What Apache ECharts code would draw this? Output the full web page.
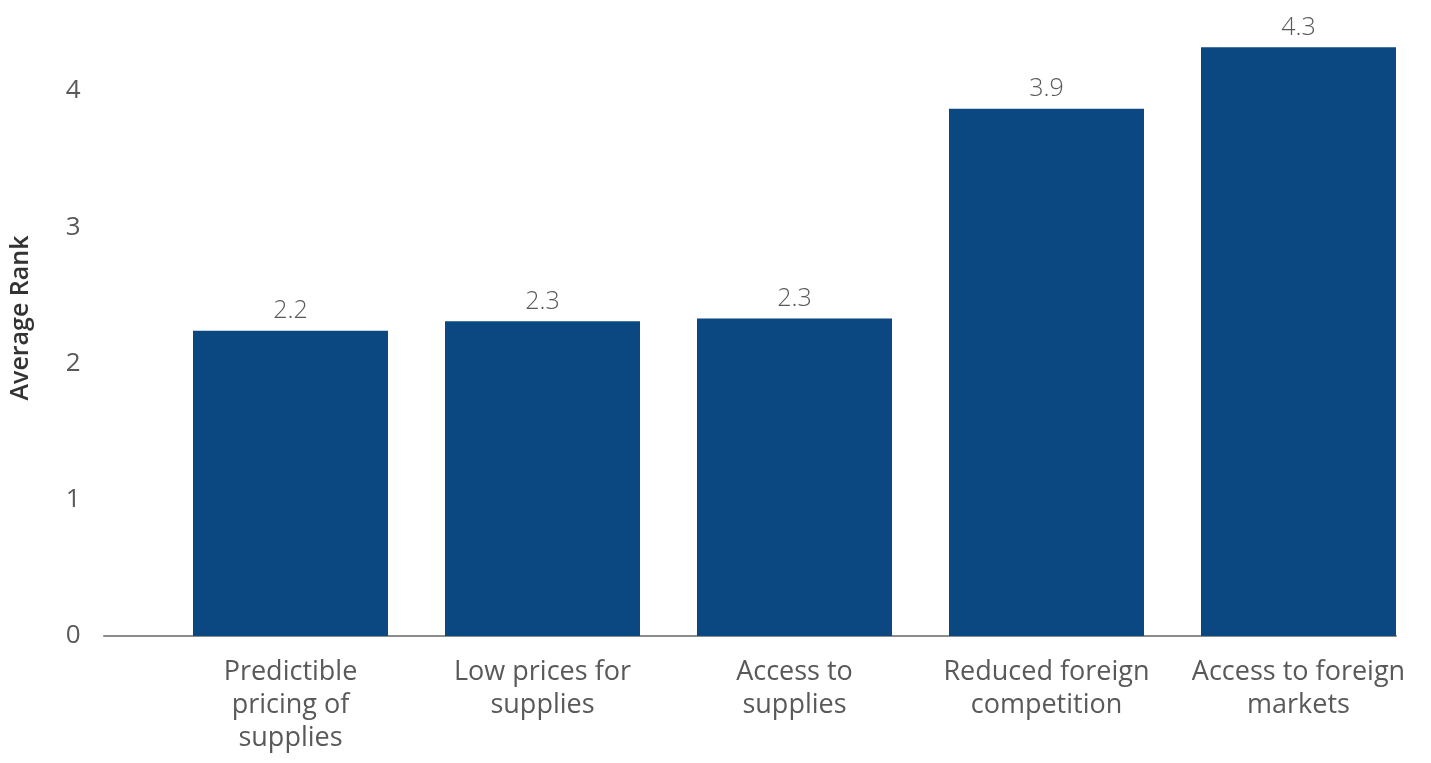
<!DOCTYPE html>
<html>
<head>
<meta charset="utf-8">
<script src="https://cdn.jsdelivr.net/npm/echarts@6/dist/echarts.min.js"></script>
<style>
  html, body { margin: 0; padding: 0; background: #fff; }
  #chart { width: 1431px; height: 763px; }
</style>
</head>
<body>
<div id="chart"></div>
<script>
// categories and average ranks
const categories = [
    'Predictible\npricing of\nsupplies',
    'Low prices for\nsupplies',
    'Access to\nsupplies',
    'Reduced foreign\ncompetition',
    'Access to foreign\nmarkets'
];
const avgRank = [2.24, 2.31, 2.33, 3.87, 4.32];
const yTicks = [0, 1, 2, 3, 4];

const font = '"Open Sans", "Noto Sans", sans-serif';
const grey = '#595959';

let option = {
    grid: [
        // plot area for the bars
        { left: 164.5, right: 6.5, top: 46, bottom: 127, outerBoundsMode: 'none' },
        // wider area, only used for the baseline
        { left: 104, right: 35, top: 46, bottom: 127, outerBoundsMode: 'none' }
    ],
    xAxis: [
        {
            type: 'category',
            gridIndex: 0,
            data: categories,
            axisLine: { show: false },
            axisTick: { show: false },
            axisLabel: {
                interval: 0,
                color: grey,
                fontFamily: font,
                fontSize: 27,
                lineHeight: 33,
                margin: 20
            }
        },
        {
            type: 'value',
            gridIndex: 1,
            axisLine: { show: true, lineStyle: { color: '#8c8c8c', width: 2 } },
            axisTick: { show: false },
            axisLabel: { show: false },
            splitLine: { show: false }
        }
    ],
    yAxis: [
        {
            type: 'value',
            gridIndex: 0,
            min: 0,
            max: 4.33,
            interval: 1,
            name: 'Average Rank',
            nameLocation: 'middle',
            nameGap: 131,
            nameTextStyle: {
                color: '#333333',
                fontFamily: font,
                fontSize: 25,
                fontWeight: 600,
                padding: [0, 0, 0, 46]
            },
            axisLine: { show: false },
            axisTick: { show: false },
            splitLine: { show: false },
            axisLabel: {
                showMaxLabel: false,
                color: grey,
                fontFamily: font,
                fontSize: 26,
                margin: 84,
                formatter: function (v) {
                    return yTicks.indexOf(v) >= 0 ? String(v) : '';
                }
            }
        },
        {
            type: 'value',
            gridIndex: 1,
            show: false
        }
    ],
    series: [
        {
            type: 'bar',
            xAxisIndex: 0,
            yAxisIndex: 0,
            data: avgRank,
            barWidth: 195,
            itemStyle: { color: '#0b4780' },
            label: {
                show: true,
                position: 'top',
                distance: 7,
                color: grey,
                fontFamily: font,
                fontSize: 25,
                fontWeight: 300,
                formatter: function (p) { return p.value.toFixed(1); }
            }
        }
    ]
};

const chart = echarts.init(document.getElementById('chart'));
chart.setOption(option);
</script>
</body>
</html>
